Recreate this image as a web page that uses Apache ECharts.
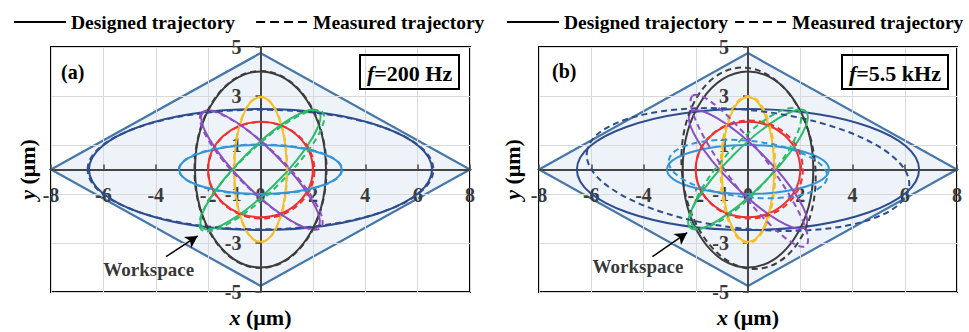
<!DOCTYPE html>
<html>
<head>
<meta charset="utf-8">
<script src="https://cdn.jsdelivr.net/npm/echarts@6/dist/echarts.min.js"></script>
<style>
  html, body { margin: 0; padding: 0; background: #fff; }
  #chart { width: 969px; height: 332px; }
</style>
</head>
<body>
<div id="chart"></div>
<script>
// workspace diamond (um)
const workspaceX = [-8, 0, 8, 0];
const workspaceY = [0, 4.75, 0, -4.75];

// one entry per trajectory: wide, tall, narrow, circle, flat, rising diagonal, falling diagonal
const designedRx = [6.55, 2.5, 1.0, 2.0, 3.1, 3.14, 3.1];
const designedRy = [2.47, 4.0, 2.95, 1.95, 1.0, 0.84, 0.85];
const designedTilt = [0, 0, 0, 0, 0, 45, -45];

// measured at f = 200 Hz
const measuredACx = [0, 0, 0, 0.03, 0, 0.05, 0.03];
const measuredACy = [0, 0, 0, -0.03, 0, -0.05, -0.03];
const measuredARx = [6.6, 2.52, 1.02, 2.03, 3.12, 3.22, 3.16];
const measuredARy = [2.44, 4.02, 2.97, 1.97, 1.02, 0.88, 0.88];
const measuredATilt = [0, 0, 0, 0, 0, 44, -44];

// measured at f = 5.5 kHz
const measuredBCx = [0, 0.02, 0, 0.05, 0, -0.08, 0.05];
const measuredBCy = [0, 0.05, 0, 0, 0.02, 0.05, -0.05];
const measuredBRx = [6.2, 2.55, 1.05, 2.05, 3.05, 3.0, 3.6];
const measuredBRy = [2.42, 4.12, 3.0, 2.0, 1.15, 0.95, 0.8];
const measuredBTilt = [-6, 6, 0, 0, -6, 48, -53];

const colors = ['#2e4d8c', '#3c3c3c', '#f5bf2a', '#ef3030', '#3394d6', '#2dbb6a', '#8a4fc0'];
const serif = '"Liberation Serif", "Times New Roman", serif';

var chartDom = document.getElementById('chart');
var myChart = echarts.init(chartDom, null, { renderer: 'svg' });

function ellipseSeries(name, axisIndex, cx, cy, rx, ry, tilt, dashed) {
    return {
        name: name,
        type: 'custom',
        xAxisIndex: axisIndex,
        yAxisIndex: axisIndex,
        silent: true,
        data: rx.map(function (r, i) {
            return { value: [cx ? cx[i] : 0, cy ? cy[i] : 0, r, ry[i], tilt[i]], itemStyle: { color: colors[i] } };
        }),
        renderItem: function (params, api) {
            var c = api.coord([api.value(0), api.value(1)]);
            var sx = api.size([1, 0])[0];
            var sy = api.size([0, 1])[1];
            return {
                type: 'ellipse',
                x: c[0],
                y: c[1],
                rotation: api.value(4) * Math.PI / 180,
                shape: { cx: 0, cy: 0, rx: api.value(2) * sx, ry: api.value(3) * sy },
                style: { fill: 'none', stroke: api.visual('color'), lineWidth: 2, lineDash: dashed ? [6, 4] : null }
            };
        }
    };
}

// drawn under the axes so grid lines and tick labels stay visible
function workspaceSeries(axisIndex) {
    return {
        type: 'custom',
        xAxisIndex: axisIndex,
        yAxisIndex: axisIndex,
        silent: true,
        z: -1,
        data: [[0, 0]],
        renderItem: function (params, api) {
            return {
                type: 'polygon',
                shape: { points: workspaceX.map(function (x, i) { return api.coord([x, workspaceY[i]]); }) },
                style: { fill: '#eef3fa', stroke: '#4677a8', lineWidth: 2.2 }
            };
        }
    };
}

function noteSeries(axisIndex, textAt, arrowFrom, arrowTo) {
    return {
        type: 'scatter',
        xAxisIndex: axisIndex,
        yAxisIndex: axisIndex,
        silent: true,
        symbolSize: 0,
        data: [textAt],
        label: {
            show: true, position: 'inside', formatter: 'Workspace',
            color: '#000', fontFamily: serif, fontWeight: 'bold', fontSize: 19
        },
        markLine: {
            silent: true,
            symbol: ['none', 'arrow'],
            symbolSize: [10, 12],
            label: { show: false },
            lineStyle: { color: '#000', type: 'solid', width: 1.5 },
            data: [[{ coord: arrowFrom }, { coord: arrowTo }]]
        }
    };
}

var nameStyle = {
    color: '#000', fontFamily: serif, fontWeight: 'bold', fontSize: 22,
    rich: { i: { fontStyle: 'italic', fontFamily: serif, fontWeight: 'bold', fontSize: 22 } }
};

// axes sit on the zero lines: shift them into the middle of the grid
function xAxis(i, halfHeight) {
    return {
        gridIndex: i, type: 'value', min: -8, max: 8, interval: 2,
        position: 'bottom', offset: -halfHeight,
        axisLine: { onZero: false, lineStyle: { color: '#454545', width: 2 } },
        axisTick: { inside: true, length: 5, lineStyle: { color: '#454545', width: 1.5 } },
        axisLabel: { margin: 15, color: '#3a3a3a', fontFamily: serif, fontWeight: 'bold', fontSize: 20 },
        splitLine: { show: true, lineStyle: { color: '#d9d9d9', width: 1 } },
        name: '{i|x} (μm)', nameLocation: 'middle', nameGap: 137,
        nameTextStyle: nameStyle
    };
}

function yAxis(i, halfWidth, gap) {
    return {
        gridIndex: i, type: 'value', min: -5, max: 5, interval: 2,
        position: 'left', offset: -halfWidth,
        axisLine: { onZero: false, lineStyle: { color: '#454545', width: 2 } },
        axisTick: { length: 5, lineStyle: { color: '#454545', width: 1.5 } },
        axisLabel: { margin: 19, color: '#3a3a3a', fontFamily: serif, fontWeight: 'bold', fontSize: 20 },
        splitLine: { show: true, lineStyle: { color: '#d9d9d9', width: 1 } },
        name: '{i|y} (μm)', nameLocation: 'middle', nameGap: gap,
        nameTextStyle: nameStyle
    };
}

function boxTitle(text, left) {
    return {
        text: text, left: left, top: 55, padding: [6, 7, 4, 7],
        borderColor: '#000', borderWidth: 2,
        textStyle: {
            color: '#000', fontFamily: serif, fontWeight: 'bold', fontSize: 22, lineHeight: 24,
            rich: { i: { fontStyle: 'italic', fontFamily: serif, fontWeight: 'bold', fontSize: 22, lineHeight: 24 } }
        }
    };
}

function legend(left, gap) {
    return {
        left: left, top: 7, itemWidth: 52, itemHeight: 12, itemGap: gap,
        data: ['Designed trajectory', 'Measured trajectory'],
        itemStyle: { opacity: 0 },
        textStyle: { color: '#000', fontFamily: serif, fontWeight: 'bold', fontSize: 19.5 }
    };
}

var labelStyle = { color: '#000', fontFamily: serif, fontWeight: 'bold', fontSize: 20 };

var option = {
    animation: false,
    backgroundColor: '#fff',
    title: [
        { text: '(a)', left: 61, top: 62, padding: 0, textStyle: labelStyle },
        { text: '(b)', left: 552, top: 61, padding: 0, textStyle: labelStyle },
        boxTitle('{i|f}=200 Hz', 360),
        boxTitle('{i|f}=5.5 kHz', 842)
    ],
    legend: [legend(8, 20), legend(501, 6)],
    grid: [
        { left: 51, top: 47, width: 419, height: 245, show: true, borderColor: '#000', borderWidth: 2, backgroundColor: 'transparent', outerBoundsMode: 'none' },
        { left: 539, top: 47, width: 418, height: 245, show: true, borderColor: '#000', borderWidth: 2, backgroundColor: 'transparent', outerBoundsMode: 'none' }
    ],
    xAxis: [xAxis(0, 122.5), xAxis(1, 122.5)],
    yAxis: [yAxis(0, 209.5, 222), yAxis(1, 209, 225)],
    series: [
        { name: 'Designed trajectory', type: 'line', data: [], symbol: 'none', lineStyle: { color: '#000', width: 2.5 }, itemStyle: { color: '#000' } },
        { name: 'Measured trajectory', type: 'line', data: [], symbol: 'none', lineStyle: { color: '#000', width: 2.5, type: [9, 5] }, itemStyle: { color: '#000' } },
        workspaceSeries(0),
        workspaceSeries(1),
        ellipseSeries('designed-a', 0, null, null, designedRx, designedRy, designedTilt, false),
        ellipseSeries('measured-a', 0, measuredACx, measuredACy, measuredARx, measuredARy, measuredATilt, true),
        ellipseSeries('designed-b', 1, null, null, designedRx, designedRy, designedTilt, false),
        ellipseSeries('measured-b', 1, measuredBCx, measuredBCy, measuredBRx, measuredBRy, measuredBTilt, true),
        noteSeries(0, [-4.27, -4.1], [-3.61, -3.56], [-2.4, -2.71]),
        noteSeries(1, [-4.21, -3.97], [-3.66, -3.56], [-2.33, -2.58])
    ]
};

option && myChart.setOption(option);
</script>
</body>
</html>
